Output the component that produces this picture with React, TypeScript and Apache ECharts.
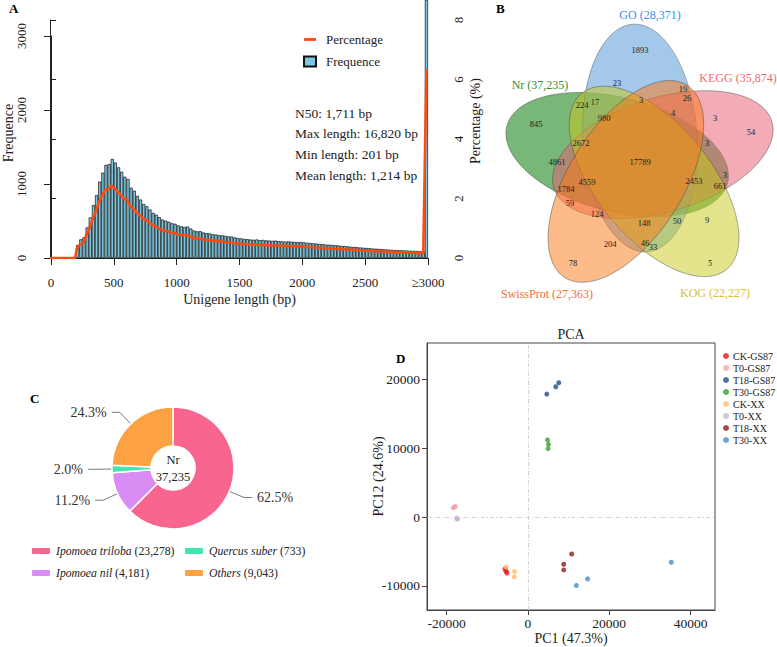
import React, { useEffect, useRef } from 'react';
import * as echarts from 'echarts';

const FONT = '"Liberation Serif", "Times New Roman", Times, serif';

// ---------------- Panel A: unigene length distribution ----------------
const binStartBp = 200;
const binWidthBp = 25;
// counts per 25-bp bin from 200 bp to 2975 bp; the last value is the ≥3000 bp bin
const frequence = [
  176, 252, 279, 414, 549, 716, 851, 1032, 1153, 1257, 1270, 1338, 1290, 1225, 1166, 1099,
  1068, 950, 910, 840, 790, 730, 700, 655, 610, 585, 552, 520, 505, 490, 470, 462,
  440, 428, 420, 425, 398, 372, 360, 362, 345, 336, 333, 322, 318, 310, 306, 300,
  292, 290, 278, 270, 265, 258, 255, 250, 246, 250, 242, 244, 238, 236, 232, 235,
  228, 226, 222, 225, 220, 218, 214, 217, 212, 206, 203, 198, 195, 190, 188, 182,
  180, 176, 172, 170, 164, 162, 158, 152, 150, 146, 142, 138, 135, 133, 128, 126,
  122, 120, 117, 114, 110, 108, 106, 104, 102, 100, 98, 96, 95, 92, 90,
  3490,
];
const totalUnigenes = 55000;
const lengthTicks = [0, 500, 1000, 1500, 2000, 2500, 3000];
const assemblyStats = ['N50: 1,711 bp', 'Max length: 16,820 bp', 'Min length: 201 bp', 'Mean length: 1,214 bp'];

// ---------------- Panel B: five-set Venn ----------------
const vennSets = ['Nr', 'GO', 'KEGG', 'KOG', 'SwissProt'];
const vennSetSizes = ['37,235', '28,371', '35,874', '22,227', '27,363'];
const vennRegionCounts = [
  '1893', '23', '19', '26', '224', '17', '3', '845', '980', '4', '3', '54', '2672', '3', '4861', '17789',
  '4559', '2453', '3', '661', '1784', '59', '124', '148', '50', '9', '204', '46', '33', '78', '5',
];

// ---------------- Panel C: Nr species ----------------
const nrSpecies = ['Ipomoea triloba', 'Ipomoea nil', 'Quercus suber', 'Others'];
const nrSpeciesCounts = [23278, 4181, 733, 9043];
const nrTotal = 37235;

// ---------------- Panel D: PCA ----------------
const pcaGroups = ['CK-GS87', 'T0-GS87', 'T18-GS87', 'T30-GS87', 'CK-XX', 'T0-XX', 'T18-XX', 'T30-XX'];
const pcaPC1 = [
  [-5630, -5390, -5140],
  [-18360, -17800, -18090],
  [4650, 6850, 7590],
  [4820, 5070, 4970],
  [-5310, -3260, -3350],
  [-17380, -17500, -17300],
  [10770, 8810, 8810],
  [35250, 14690, 11920],
];
const pcaPC2 = [
  [-7540, -7830, -8120],
  [1360, 1550, 1450],
  [17880, 18940, 19520],
  [11220, 10580, 9960],
  [-7250, -7910, -8690],
  [-230, -150, -300],
  [-5360, -6850, -7680],
  [-6560, -8980, -9940],
];
const pcaTicksX = [-20000, 0, 20000, 40000];
const pcaTicksY = [-10000, 0, 10000, 20000];

// ---------------- styles / layout ----------------
const barColor = '#7cc6e0';
const lineColor = '#ff4a10';
const pieColors = ['#f8658f', '#d98cf3', '#3fe6ae', '#fda243'];
const pcaColors = ['#e41a1c', '#f4a3a8', '#1f4e8c', '#33a02c', '#fdbf6f', '#cab2d6', '#8e1b1b', '#4b8bcb'];
const vennFill = ['rgba(30,135,30,0.6)', 'rgba(90,155,215,0.55)', 'rgba(232,90,110,0.5)', 'rgba(200,202,25,0.5)', 'rgba(252,120,20,0.5)'];
const vennLabelColor = ['#2f8f2f', '#3a8ee6', '#f26b73', '#d8c22a', '#f26b3a'];
const vennCenter = [640, 162];
const vennCenterDist = 24;
const vennCenterDir = [-162, -90, -18, 54, 126];
const vennTipDir = [194.5, -93.5, -17, 50.5, 122.5];
const vennAxes = [114, 57];
const vennSetLabelPos = [[540, 85], [650, 15], [738, 78], [715, 293], [547, 294]];
const vennCountPos = [
  [640, 50], [617, 83], [683, 89], [687, 98], [582, 105], [595, 102], [641, 100], [536, 124], [604, 118],
  [673, 113], [715, 118], [751, 132], [581, 143], [707, 143], [557, 162], [640, 162], [587, 182], [694, 181],
  [725, 175], [720, 186], [566, 189], [570, 203], [597, 214], [644, 223], [677, 221], [707, 220], [610, 244],
  [645, 243], [653, 247], [573, 263], [710, 263],
];

function txt(text: string, x: number, y: number, size: number, color = '#222', extra: any = {}) {
  return {
    type: 'text',
    x,
    y,
    silent: true,
    style: {
      text,
      fill: color,
      font: `${extra.weight || 'normal'} ${size}px ${FONT}`,
      align: extra.align || 'left',
      verticalAlign: 'middle',
      textAlign: extra.align || 'left',
      textVerticalAlign: 'middle',
    },
  };
}

const plain = (v: number) => String(v);

function buildOption() {
  const barData = frequence.map((v, i) => [binStartBp + binWidthBp * i + binWidthBp / 2, v]);
  const lineData = [[0, 0], [binStartBp, 0], ...barData.map(([x, v]) => [x, (v / totalUnigenes) * 100])];

  const graphics: any[] = [];
  graphics.push(txt('A', 9, 8, 13, '#000', { weight: 'bold' }));
  graphics.push(txt('B', 496, 8, 13, '#000', { weight: 'bold' }));
  graphics.push(txt('C', 30, 398, 13, '#000', { weight: 'bold' }));
  graphics.push(txt('D', 396, 358, 13, '#000', { weight: 'bold' }));
  assemblyStats.forEach((s, i) => graphics.push(txt(s, 295, 113 + i * 20.7, 13.5)));
  vennSets.forEach((_, i) => {
    const cd = (vennCenterDir[i] * Math.PI) / 180;
    const cx = vennCenter[0] + vennCenterDist * Math.cos(cd);
    const cy = vennCenter[1] + vennCenterDist * Math.sin(cd);
    graphics.push({
      type: 'ellipse',
      x: cx,
      y: cy,
      rotation: (-vennTipDir[i] * Math.PI) / 180,
      silent: true,
      shape: { cx: 0, cy: 0, rx: vennAxes[0], ry: vennAxes[1] },
      style: { fill: vennFill[i], stroke: 'rgba(70,70,70,0.7)', lineWidth: 0.6 },
    });
  });
  vennSets.forEach((s, i) =>
    graphics.push(txt(`${s} (${vennSetSizes[i]})`, vennSetLabelPos[i][0], vennSetLabelPos[i][1], 12, vennLabelColor[i], { align: 'center' }))
  );
  vennRegionCounts.forEach((c, i) =>
    graphics.push(txt(c, vennCountPos[i][0], vennCountPos[i][1], 8.5, '#222', { align: 'center' }))
  );
  graphics.push(txt('Nr', 173, 460, 12.5, '#222', { align: 'center' }));
  graphics.push(txt(nrTotal.toLocaleString('en-US'), 173, 477, 12.5, '#222', { align: 'center' }));
  graphics.push(txt('PCA', 571, 334, 14, '#222', { align: 'center' }));

  const axisCol = '#222';
  const baseText = { fontFamily: FONT, color: axisCol };

  const pcaSeries = pcaGroups.map((g, gi) => ({
    type: 'scatter',
    name: g,
    xAxisIndex: 2,
    yAxisIndex: 2,
    symbolSize: 5,
    itemStyle: { color: pcaColors[gi] },
    data: pcaPC1[gi].map((x, k) => [x, pcaPC2[gi][k]]),
    markLine:
      gi === 0
        ? {
            silent: true,
            symbol: 'none',
            label: { show: false },
            lineStyle: { type: [4, 2, 1, 2], color: '#c8c8c8', width: 0.8 },
            data: [{ xAxis: 0 }, { yAxis: 0 }],
          }
        : undefined,
    z: 3,
  }));

  const legendItalic = { fontFamily: FONT, fontStyle: 'italic', fontSize: 11.7, color: axisCol };
  const speciesFormatter = (n: string) =>
    `{i|${n}} (${nrSpeciesCounts[nrSpecies.indexOf(n)].toLocaleString('en-US')})`;

  return {
    animation: false,
    backgroundColor: '#fff',
    textStyle: { fontFamily: FONT },
    grid: [
      { left: 50, top: 36, width: 378, height: 222 },
      { left: 50, top: 20, width: 378, height: 238 },
      { left: 427, top: 343, width: 288, height: 267, show: true, borderColor: '#444', borderWidth: 1, backgroundColor: 'transparent' },
    ],
    xAxis: [
      {
        gridIndex: 0,
        type: 'value',
        min: lengthTicks[0],
        max: lengthTicks[lengthTicks.length - 1],
        interval: 500,
        offset: 13,
        axisLine: { lineStyle: { color: axisCol, width: 1 } },
        axisTick: { length: 7, lineStyle: { color: axisCol } },
        axisLabel: { ...baseText, fontSize: 13, margin: 5, formatter: (v: number) => (v === 3000 ? '≥3000' : String(v)) },
        splitLine: { show: false },
        name: 'Unigene length (bp)',
        nameLocation: 'middle',
        nameGap: 21,
        nameMoveOverlap: false,
        nameTextStyle: { ...baseText, fontSize: 14 },
      },
      { gridIndex: 1, type: 'value', min: 0, max: 3000, show: false },
      {
        gridIndex: 2,
        type: 'value',
        min: -24800,
        max: 46000,
        axisLine: { onZero: false, lineStyle: { color: '#444' } },
        axisTick: { length: 5, customValues: pcaTicksX, lineStyle: { color: '#444' } },
        axisLabel: { ...baseText, fontSize: 13.5, margin: 6, customValues: pcaTicksX, formatter: plain },
        splitLine: { show: false },
        name: 'PC1 (47.3%)',
        nameLocation: 'middle',
        nameGap: 21,
        nameMoveOverlap: false,
        nameTextStyle: { ...baseText, fontSize: 14 },
      },
    ],
    yAxis: [
      {
        gridIndex: 0,
        type: 'value',
        min: 0,
        max: 3000,
        interval: 1000,
        position: 'left',
        offset: 17,
        axisLine: { show: true, lineStyle: { color: axisCol } },
        axisTick: { show: true, length: 7, lineStyle: { color: axisCol } },
        axisLabel: { ...baseText, fontSize: 13, rotate: 90, margin: 6, formatter: plain },
        splitLine: { show: false },
        name: 'Frequence',
        nameLocation: 'middle',
        nameGap: 19,
        nameMoveOverlap: false,
        nameTextStyle: { ...baseText, fontSize: 14, padding: [0, 0, 0, 28] },
      },
      {
        gridIndex: 1,
        type: 'value',
        min: 0,
        max: 8,
        interval: 2,
        position: 'right',
        offset: 15,
        axisLine: { show: true, lineStyle: { color: axisCol } },
        axisTick: { show: true, length: 6, lineStyle: { color: axisCol } },
        axisLabel: { ...baseText, fontSize: 13, rotate: 90, margin: 9 },
        splitLine: { show: false },
        name: 'Percentage (%)',
        nameLocation: 'middle',
        nameRotate: 90,
        nameGap: 25,
        nameMoveOverlap: false,
        nameTextStyle: { ...baseText, fontSize: 14, padding: [0, 0, 0, 36] },
      },
      {
        gridIndex: 2,
        type: 'value',
        min: -13500,
        max: 25300,
        axisLine: { show: true, onZero: false, lineStyle: { color: '#444' } },
        axisTick: { show: true, length: 5, customValues: pcaTicksY, lineStyle: { color: '#444' } },
        axisLabel: { ...baseText, fontSize: 13.5, margin: 7, customValues: pcaTicksY, formatter: plain },
        splitLine: { show: false },
        name: 'PC12 (24.6%)',
        nameLocation: 'middle',
        nameGap: 42,
        nameMoveOverlap: false,
        nameTextStyle: { ...baseText, fontSize: 14 },
      },
    ],
    legend: [
      {
        data: [
          { name: 'Percentage', icon: 'path://M0,0H12V2.8H0Z' },
          { name: 'Frequence', icon: 'rect' },
        ],
        orient: 'vertical',
        left: 303,
        top: 33,
        padding: 0,
        itemWidth: 12,
        itemHeight: 10,
        itemGap: 9,
        textStyle: { ...baseText, fontSize: 13, padding: [0, 0, 0, 5] },
      },
      {
        data: [nrSpecies[0], nrSpecies[1]],
        orient: 'vertical',
        left: 30,
        top: 545,
        padding: 0,
        itemWidth: 20,
        itemHeight: 8,
        itemGap: 10,
        formatter: speciesFormatter,
        textStyle: { ...baseText, fontSize: 11.7, rich: { i: legendItalic } },
      },
      {
        data: [nrSpecies[2], nrSpecies[3]],
        orient: 'vertical',
        left: 183,
        top: 545,
        padding: 0,
        itemWidth: 20,
        itemHeight: 8,
        itemGap: 10,
        formatter: speciesFormatter,
        textStyle: { ...baseText, fontSize: 11.7, rich: { i: legendItalic } },
      },
      {
        data: pcaGroups,
        orient: 'vertical',
        left: 723,
        top: 350,
        padding: 0,
        icon: 'circle',
        itemWidth: 6,
        itemHeight: 6,
        itemGap: 0,
        textStyle: { ...baseText, fontSize: 10, lineHeight: 12, padding: [0, 0, 0, -1] },
      },
    ],
    series: [
      {
        type: 'bar',
        name: 'Frequence',
        xAxisIndex: 0,
        yAxisIndex: 0,
        data: barData,
        barWidth: 3.15,
        clip: false,
        itemStyle: { color: barColor, borderColor: '#111', borderWidth: 0.7 },
      },
      {
        type: 'line',
        name: 'Percentage',
        xAxisIndex: 1,
        yAxisIndex: 1,
        data: lineData,
        showSymbol: false,
        symbol: 'none',
        lineStyle: { color: lineColor, width: 2.6 },
        itemStyle: { color: lineColor },
        z: 3,
      },
      {
        type: 'pie',
        name: 'Nr',
        center: [173, 468],
        radius: [22, 61],
        startAngle: 90,
        clockwise: true,
        avoidLabelOverlap: false,
        data: nrSpecies.map((n, i) => ({ name: n, value: nrSpeciesCounts[i], itemStyle: { color: pieColors[i] } })),
        itemStyle: { borderColor: '#fff', borderWidth: 1.5 },
        label: {
          show: true,
          position: 'outside',
          formatter: (p: any) => `${((p.value / nrTotal) * 100).toFixed(1)}%`,
          fontFamily: FONT,
          fontSize: 14,
          color: '#333',
        },
        labelLine: { show: true, length: 16, length2: 8, lineStyle: { color: '#555', width: 0.8 } },
      },
      ...pcaSeries,
    ],
    graphic: { elements: graphics },
  };
}

export default function App() {
  const ref = useRef<HTMLDivElement>(null);
  useEffect(() => {
    if (!ref.current) return;
    const chart = echarts.init(ref.current, undefined, { renderer: 'svg' });
    chart.setOption(buildOption() as any);
    return () => chart.dispose();
  }, []);
  return <div ref={ref} style={{ position: 'absolute', left: 0, top: 0, width: 777, height: 647, background: '#fff' }} />;
}
